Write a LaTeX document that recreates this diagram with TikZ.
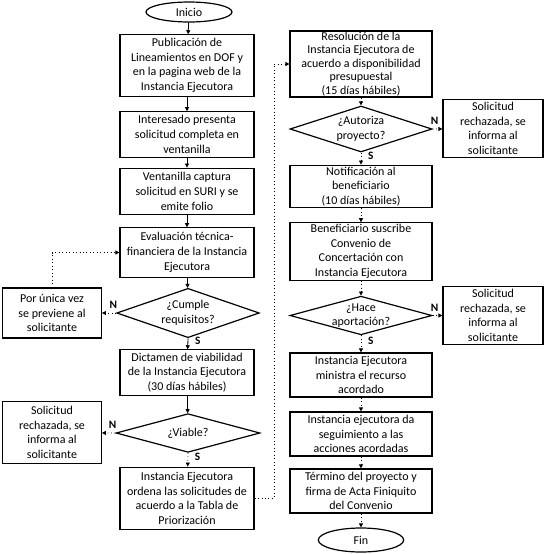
\documentclass[tikz,border=0pt]{standalone}
\usepackage{fontspec}
\setmainfont{Carlito}
\usetikzlibrary{arrows.meta,positioning,shapes.geometric}

\tikzset{
  box/.style={draw,line width=0.9pt,align=center,inner sep=0pt,minimum width=100.5pt},
  rbox/.style={box,minimum width=106.5pt},
  sidebox/.style={box,minimum width=74pt},
  decision/.style={draw,diamond,line width=0.9pt,inner sep=0pt},
  terminal/.style={draw,ellipse,line width=0.9pt,inner sep=0pt},
  flow/.style={-{Triangle[length=3pt,width=3pt]},line width=0.6pt},
  dotflow/.style={flow,dotted},
  yn/.style={font=\fontsize{8.5}{9}\selectfont\bfseries,inner sep=1pt}
}

\begin{document}
\begin{tikzpicture}[x=0.75pt,y=-0.75pt,font=\fontsize{9}{11}\selectfont]
  \useasboundingbox (0,0) rectangle (545,554);
  % left column
  \node[terminal,minimum width=64.5pt,minimum height=15pt] (ini) at (189,12) {Inicio};
  \node[box,minimum height=46pt] (pub) at (187,65.5) {Publicación de\\Lineamientos en DOF y\\en la pagina web de la\\Instancia Ejecutora};
  \node[box,minimum height=34pt] (int) at (187,134.5) {Interesado presenta\\solicitud completa en\\ventanilla};
  \node[box,minimum height=35pt] (ven) at (187,191.5) {Ventanilla captura\\solicitud en SURI y se\\emite folio};
  \node[box,minimum height=37pt] (eva) at (187,252.5) {Evaluación técnica-\\financiera de la Instancia\\Ejecutora};
  \node[decision,minimum width=107pt,minimum height=37pt,label={[align=center]center:¿Cumple\\requisitos?}] (cum) at (188,313) {};
  \node[sidebox,minimum height=37.5pt] (prev) at (52,313) {Por única vez\\se previene al\\solicitante};
  \node[box,minimum height=34pt] (dic) at (187,372.5) {Dictamen de viabilidad\\de la Instancia Ejecutora\\(30 días hábiles)};
  \node[decision,minimum width=108pt,minimum height=29pt,label={center:¿Viable?}] (via) at (188,433) {};
  \node[sidebox,minimum height=46pt] (rech1) at (52,432.5) {Solicitud\\rechazada, se\\informa al\\solicitante};
  \node[box,minimum height=47pt] (ord) at (187,498.5) {Instancia Ejecutora\\ordena las solicitudes de\\acuerdo a la Tabla de\\Priorización};
  % right column
  \node[rbox,minimum height=49.5pt,font=\fontsize{9}{10.2}\selectfont] (res) at (361,64) {Resolución de la\\Instancia Ejecutora de\\acuerdo a disponibilidad\\presupuestal\\(15 días hábiles)};
  \node[decision,minimum width=106.5pt,minimum height=34.5pt,label={[align=center]center:¿Autoriza\\proyecto?}] (aut) at (361,129) {};
  \node[sidebox,minimum width=75pt,minimum height=43pt] (rech2) at (493,128.5) {Solicitud\\rechazada, se\\informa al\\solicitante};
  \node[rbox,minimum height=32pt] (not) at (361,186.5) {Notificación al\\beneficiario\\(10 días hábiles)};
  \node[rbox,minimum height=43pt] (ben) at (361,251.5) {Beneficiario suscribe\\Convenio de\\Concertación con\\Instancia Ejecutora};
  \node[decision,minimum width=106.5pt,minimum height=29pt,label={[align=center]center:¿Hace\\aportación?}] (apo) at (361,315.5) {};
  \node[sidebox,minimum width=75pt,minimum height=44pt] (rech3) at (493,315.5) {Solicitud\\rechazada, se\\informa al\\solicitante};
  \node[rbox,minimum height=33pt] (min) at (361,375) {Instancia Ejecutora\\ministra el recurso\\acordado};
  \node[rbox,minimum height=33pt] (seg) at (361,434) {Instancia ejecutora da\\seguimiento a las\\acciones acordadas};
  \node[rbox,minimum height=33pt] (ter) at (361,491) {Término del proyecto y\\firma de Acta Finiquito\\del Convenio};
  \node[terminal,minimum width=64pt,minimum height=18pt] (fin) at (361,540) {Fin};
  \coordinate (bypass) at (274,300);
  % connectors
  \draw[flow] (ini)--(pub);
  \draw[flow] (pub)--(int);
  \draw[flow] (int)--(ven);
  \draw[flow] (ven)--(eva);
  \draw[flow] (eva)--(cum);
  \draw[dotflow] (cum.west)--node[yn,pos=0.2,above=2pt]{N}(prev);
  \draw[dotflow] (prev.north)|-(eva.west);
  \draw[flow] (cum.south)--node[yn,pos=0.2,right=4pt]{S}(dic);
  \draw[flow] (dic)--(via);
  \draw[dotflow] (via.west)--node[yn,pos=0.2,above=2pt]{N}(rech1);
  \draw[dotflow] (via.south)--node[yn,pos=0.3,right=4pt]{S}(ord);
  \draw[dotflow] (ord.east)-|(bypass)|-(res.west);
  \draw[dotflow] (res)--(aut);
  \draw[dotflow] (aut.east)--node[yn,pos=0.2,above=2pt]{N}(rech2);
  \draw[dotflow] (aut.south)--node[yn,pos=0.3,right=4pt]{S}(not);
  \draw[dotflow] (not)--(ben);
  \draw[dotflow] (ben)--(apo);
  \draw[dotflow] (apo.east)--node[yn,pos=0.2,above=2pt]{N}(rech3);
  \draw[dotflow] (apo.south)--node[yn,pos=0.3,right=4pt]{S}(min);
  \draw[dotflow] (min)--(seg);
  \draw[dotflow] (seg)--(ter);
  \draw[dotflow] (ter)--(fin);
\end{tikzpicture}
\end{document}
